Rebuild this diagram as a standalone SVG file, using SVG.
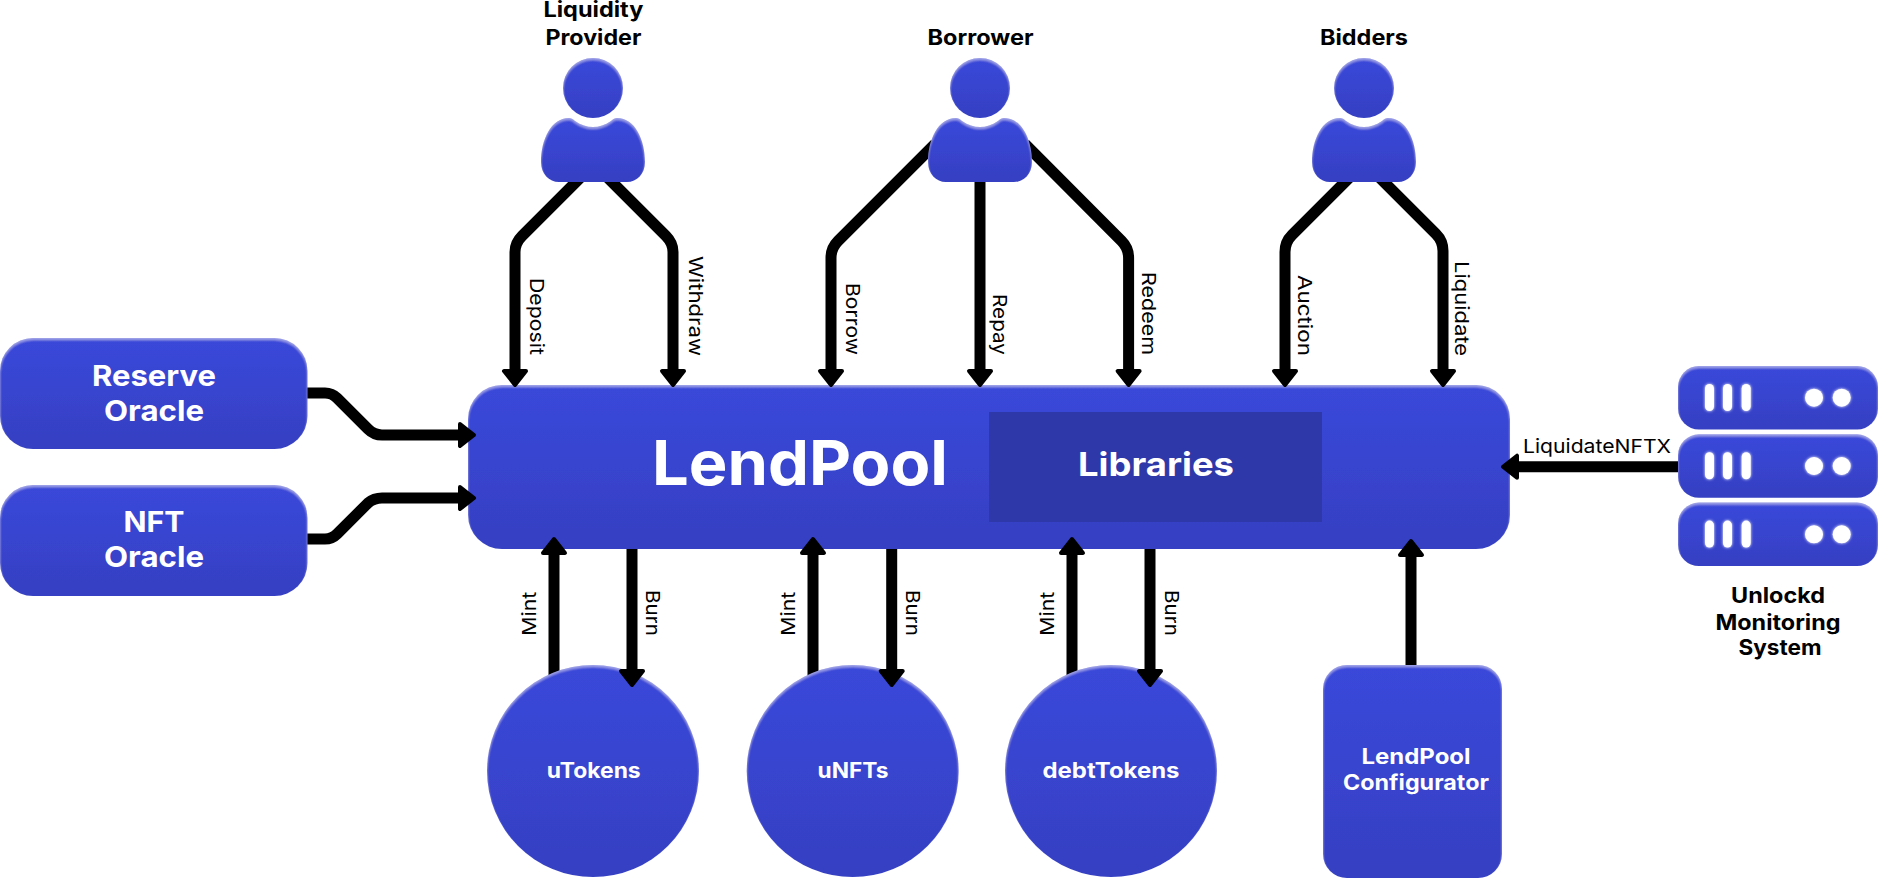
<svg xmlns="http://www.w3.org/2000/svg" xmlns:xlink="http://www.w3.org/1999/xlink" width="1878" height="878" viewBox="0 0 1878 878">
<style>
text{font-family:"Inter","Noto Sans","Liberation Sans",sans-serif;text-anchor:middle}
.w{fill:#fff;font-weight:700}
.k{fill:#000;font-weight:700;font-size:21px}
.l{fill:#000;font-weight:400;font-size:19px}
.n{fill:url(#g);filter:url(#i)}
.c path{fill:none;stroke:#000;stroke-width:11;marker-end:url(#a)}
.b{fill:#fff;filter:url(#s)}
</style>
<defs>
<linearGradient id="g" x1="0" y1="0" x2="0" y2="1"><stop offset="0" stop-color="#3a48da"/><stop offset="1" stop-color="#3540c2"/></linearGradient>
<filter id="i" x="-5%" y="-5%" width="110%" height="110%"><feGaussianBlur in="SourceAlpha" stdDeviation="1.3" result="b"/><feOffset in="b" dy="2" result="o"/><feComposite in="SourceAlpha" in2="o" operator="out" result="e"/><feFlood flood-color="#fff" flood-opacity=".32"/><feComposite in2="e" operator="in" result="f"/><feMerge><feMergeNode in="SourceGraphic"/><feMergeNode in="f"/></feMerge></filter>
<filter id="s" x="-60%" y="-60%" width="220%" height="220%"><feGaussianBlur in="SourceGraphic" stdDeviation="1.6" result="b"/><feMerge><feMergeNode in="b"/><feMergeNode in="SourceGraphic"/></feMerge></filter>
<marker id="a" markerUnits="userSpaceOnUse" markerWidth="32" markerHeight="32" refX="4" refY="16" orient="auto" overflow="visible"><path d="M4,5 L18,16 L4,27 Z" fill="#000" stroke="#000" stroke-width="4" stroke-linejoin="round"/></marker>
<g id="person"><ellipse cx="0" cy="88" rx="30" ry="30"/><path d="M-24,118 C-22,118 -20,119 -18,121 C-12,125 -6,127 0,127 C6,127 12,125 18,121 C20,119 22,118 24,118 C42,118 52,140 52,162 C52,174 44,182 34,182 L-34,182 C-44,182 -52,174 -52,162 C-52,140 -42,118 -24,118 Z"/></g>
<g id="server"><rect x="1678" y="0" width="200" height="63.5" rx="21"/></g>
<g id="lights"><rect x="1705" y="18" width="9" height="27" rx="4.5"/><rect x="1723" y="18" width="9" height="27" rx="4.5"/><rect x="1741.7" y="18" width="9" height="27" rx="4.5"/><circle cx="1814" cy="31.7" r="9"/><circle cx="1841.7" cy="31.7" r="9"/></g>
</defs>
<rect width="1878" height="878" fill="#fff"/>
<g id="connectors-behind" class="c">
<path style="marker-end:none" d="M554,690 L554,600"/>
<path style="marker-end:none" d="M813,690 L813,600"/>
<path style="marker-end:none" d="M1072,690 L1072,600"/>
</g>
<g id="lendpool"><rect class="n" x="468" y="385" width="1042" height="164" rx="34"/><rect x="989" y="412" width="333" height="110" fill="#2f38a9"/><text class="w" x="800" y="485" font-size="62" textLength="296" lengthAdjust="spacingAndGlyphs">LendPool</text><text class="w" x="1156" y="476" font-size="33" textLength="156" lengthAdjust="spacingAndGlyphs">Libraries</text></g>
<g id="utokens"><circle class="n" cx="593" cy="771" r="106"/><text class="w" x="593.7" y="778" font-size="21" textLength="94" lengthAdjust="spacingAndGlyphs">uTokens</text></g>
<g id="unfts"><circle class="n" cx="852.7" cy="771" r="106"/><text class="w" x="853" y="778" font-size="21" textLength="71" lengthAdjust="spacingAndGlyphs">uNFTs</text></g>
<g id="debttokens"><circle class="n" cx="1111" cy="771" r="106"/><text class="w" x="1111" y="778" font-size="21" textLength="137" lengthAdjust="spacingAndGlyphs">debtTokens</text></g>
<g id="connectors" class="c">
<path d="M580,178 L522,236 Q515,243 515,252 L515,371"/>
<path d="M608,178 L666,236 Q673,243 673,252 L673,371"/>
<path d="M935,144 L838,241 Q831,248 831,258 L831,371"/>
<path d="M980,178 L980,371"/>
<path d="M1025,144 L1121.6,241 Q1128.6,248 1128.6,258 L1128.6,371"/>
<path d="M1349,178 L1292,235 Q1285,242 1285,252 L1285,371"/>
<path d="M1380,178 L1436,234 Q1443,241 1443,251 L1443,371"/>
<path d="M307,393 L325,393 Q332,393 337,398 L368,429 Q374,435 382,435 L460,435"/>
<path d="M307,539 L325,539 Q332,539 337,534 L368,503 Q374,498 382,498 L460,498"/>
<path d="M1678,466.7 L1517,466.7"/>
<path d="M554,600 L554,553"/>
<path d="M632,549 L632,671"/>
<path d="M813,600 L813,553"/>
<path d="M891.7,549 L891.7,671"/>
<path d="M1072,600 L1072,553"/>
<path d="M1150,549 L1150,671"/>
<path d="M1411,670 L1411,555"/>
</g>
<g id="connector-labels">
<text class="l" transform="translate(530,316.5) rotate(90)" textLength="77" lengthAdjust="spacingAndGlyphs">Deposit</text>
<text class="l" transform="translate(689,306) rotate(90)" textLength="100" lengthAdjust="spacingAndGlyphs">Withdraw</text>
<text class="l" transform="translate(846,319) rotate(90)" textLength="72" lengthAdjust="spacingAndGlyphs">Borrow</text>
<text class="l" transform="translate(993,324.5) rotate(90)" textLength="61" lengthAdjust="spacingAndGlyphs">Repay</text>
<text class="l" transform="translate(1142,313.5) rotate(90)" textLength="83" lengthAdjust="spacingAndGlyphs">Redeem</text>
<text class="l" transform="translate(1298,315.5) rotate(90)" textLength="81" lengthAdjust="spacingAndGlyphs">Auction</text>
<text class="l" transform="translate(1455,308.5) rotate(90)" textLength="95" lengthAdjust="spacingAndGlyphs">Liquidate</text>
<text class="l" x="1597" y="453" textLength="148" lengthAdjust="spacingAndGlyphs">LiquidateNFTX</text>
<text class="l" transform="translate(536,613.7) rotate(-90)" textLength="44" lengthAdjust="spacingAndGlyphs">Mint</text>
<text class="l" transform="translate(646,613) rotate(90)" textLength="46" lengthAdjust="spacingAndGlyphs">Burn</text>
<text class="l" transform="translate(795,613.7) rotate(-90)" textLength="44" lengthAdjust="spacingAndGlyphs">Mint</text>
<text class="l" transform="translate(906,613) rotate(90)" textLength="46" lengthAdjust="spacingAndGlyphs">Burn</text>
<text class="l" transform="translate(1054,613.7) rotate(-90)" textLength="44" lengthAdjust="spacingAndGlyphs">Mint</text>
<text class="l" transform="translate(1165,613) rotate(90)" textLength="46" lengthAdjust="spacingAndGlyphs">Burn</text>
</g>
<g id="liquidity-provider"><use href="#person" class="n" x="593"/><text class="k" x="593.4" y="17.3" textLength="100" lengthAdjust="spacingAndGlyphs">Liquidity</text><text class="k" x="593.4" y="45" textLength="96" lengthAdjust="spacingAndGlyphs">Provider</text></g>
<g id="borrower"><use href="#person" class="n" x="980"/><text class="k" x="980.5" y="45" textLength="106" lengthAdjust="spacingAndGlyphs">Borrower</text></g>
<g id="bidders"><use href="#person" class="n" x="1364"/><text class="k" x="1364" y="45" textLength="88" lengthAdjust="spacingAndGlyphs">Bidders</text></g>
<g id="reserve-oracle"><rect class="n" x="0" y="338" width="307.5" height="111" rx="33"/><text class="w" x="154" y="385.7" font-size="29" textLength="124" lengthAdjust="spacingAndGlyphs">Reserve</text><text class="w" x="154" y="421" font-size="29" textLength="100" lengthAdjust="spacingAndGlyphs">Oracle</text></g>
<g id="nft-oracle"><rect class="n" x="0" y="485" width="307.5" height="111" rx="33"/><text class="w" x="154" y="531.7" font-size="29" textLength="61" lengthAdjust="spacingAndGlyphs">NFT</text><text class="w" x="154" y="567" font-size="29" textLength="100" lengthAdjust="spacingAndGlyphs">Oracle</text></g>
<g id="lendpool-configurator"><rect class="n" x="1323" y="665" width="179" height="213" rx="24"/><text class="w" x="1416" y="764" font-size="21" textLength="109" lengthAdjust="spacingAndGlyphs">LendPool</text><text class="w" x="1416" y="790" font-size="21" textLength="146" lengthAdjust="spacingAndGlyphs">Configurator</text></g>
<g id="monitoring-system">
<use href="#server" class="n" y="366"/><use href="#server" class="n" y="434.3"/><use href="#server" class="n" y="502.6"/>
<use href="#lights" class="b" y="366"/><use href="#lights" class="b" y="434.3"/><use href="#lights" class="b" y="502.6"/>
<text class="k" x="1778" y="603" textLength="94" lengthAdjust="spacingAndGlyphs">Unlockd</text><text class="k" x="1778" y="630" textLength="125" lengthAdjust="spacingAndGlyphs">Monitoring</text><text class="k" x="1780" y="655" textLength="83" lengthAdjust="spacingAndGlyphs">System</text>
</g>
</svg>
